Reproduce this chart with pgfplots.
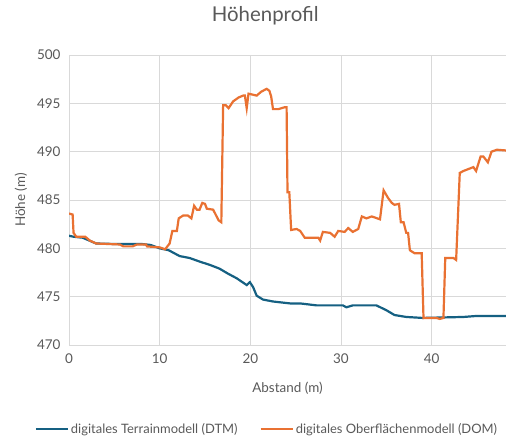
\documentclass[border=0pt]{standalone}
\usepackage{fontspec}
\setmainfont{Lato}
\usepackage{pgfplots}
\pgfplotsset{compat=1.18}
\definecolor{dtm}{HTML}{156082}
\definecolor{dom}{HTML}{E97132}
\definecolor{txt}{HTML}{595959}
\definecolor{grd}{HTML}{D9D9D9}
\begin{document}
\begin{tikzpicture}
\useasboundingbox (0,0) rectangle (506bp,436bp);
\begin{axis}[
  at={(69bp,91bp)}, anchor=south west,
  scale only axis, width=437bp, height=290bp,
  xmin=0, xmax=48.2, ymin=470, ymax=500,
  xtick={0,10,20,30,40}, ytick={470,475,...,500},
  grid=major, major grid style={grd, line width=0.9bp},
  axis line style={draw=none},
  major tick length=0pt,
  tick label style={font=\fontsize{13.5}{15}\selectfont, text=txt},
  /pgf/number format/assume math mode=true,
  xticklabel style={yshift=-5bp},
  yticklabel style={xshift=-5bp},
  xlabel={Abstand (m)}, ylabel={Höhe (m)},
  label style={font=\fontsize{13.5}{15}\selectfont, text=txt},
  xlabel style={at={(0.5,-0.148)}, anchor=center},
  ylabel style={at={(-0.11,0.5)}, anchor=center},
  title={Höhenprofil},
  title style={font=\fontsize{20.5}{23}\selectfont, text=txt, at={(0.449,1.114)}, anchor=center},
  legend columns=2,
  legend style={draw=none, fill=none, at={(0.453,-0.29)}, anchor=center,
    font=\fontsize{13}{15}\selectfont, text=txt,
    /tikz/every even column/.append style={column sep=20bp}},
  legend image code/.code={\draw[#1] (0bp,0bp) -- (32bp,0bp);},
  legend cell align=left,
]
\addplot[dtm, line width=2.2bp] coordinates {
(0,481.3) (0.5,481.2) (1.5,481.1) (2.5,480.7) (3.0,480.5) (5,480.45) (8,480.45) (9,480.35)
(10,480.0) (11,479.8) (12.2,479.2) (13.3,479.0) (14.5,478.6) (15.5,478.3) (16.6,477.9)
(17.5,477.4) (18.5,476.9) (19.6,476.2) (19.95,476.5) (20.3,476.0) (20.7,475.1) (21.4,474.7)
(22.5,474.5) (24.4,474.3) (25.5,474.3) (27.3,474.1) (30.2,474.1) (30.6,473.9) (31.3,474.1)
(33.9,474.1) (35.0,473.6) (35.9,473.1) (37.2,472.9) (39.0,472.8) (43.5,472.9) (44.9,473.0)
(48.5,473.0)
};
\addlegendentry{digitales Terrainmodell (DTM)}
\addplot[dom, line width=2.2bp] coordinates {
(0,483.6) (0.4,483.5) (0.5,481.6) (0.8,481.2) (1.8,481.2) (2.3,480.8) (3.0,480.5) (5.6,480.4)
(6.0,480.2) (7.0,480.2) (7.5,480.4) (8.5,480.4) (8.6,480.2) (10.0,480.1) (10.6,479.9)
(11.1,480.5) (11.4,481.8) (11.9,481.8) (12.1,483.1) (12.6,483.4) (13.1,483.4) (13.5,483.1)
(13.8,484.4) (14.1,484.0) (14.4,484.0) (14.7,484.7) (15.0,484.6) (15.2,484.1) (15.9,484.0)
(16.5,482.9) (16.8,482.7) (17.0,494.8) (17.3,494.8) (17.6,494.5) (18.1,495.2) (18.7,495.6)
(19.2,495.8) (19.4,495.8) (19.6,494.5) (19.8,496.0) (20.7,495.8) (21.2,496.2) (21.8,496.5)
(22.1,496.3) (22.3,495.7) (22.5,494.4) (23.1,494.4) (23.8,494.6) (24.0,494.6) (24.1,485.8)
(24.3,485.8) (24.5,481.9) (25.1,482.0) (25.5,481.8) (26.0,481.1) (27.5,481.1) (27.7,480.8)
(28.0,481.7) (28.8,481.6) (29.3,481.2) (29.7,481.8) (30.4,481.7) (30.8,482.1) (31.3,481.7)
(31.9,482.0) (32.3,483.3) (32.8,483.1) (33.4,483.3) (34.3,483.0) (34.7,486.0) (35.2,485.2)
(35.6,484.7) (35.9,484.5) (36.4,484.6) (36.6,482.7) (36.9,482.7) (37.2,481.6) (37.4,481.6)
(37.6,479.8) (38.1,479.5) (38.9,479.5) (39.1,472.8) (40.5,472.8) (40.9,472.7) (41.3,472.8)
(41.5,479.0) (42.4,479.0) (42.7,478.8) (43.1,487.8) (43.5,488.0) (44.6,488.4) (44.9,488.0)
(45.4,489.5) (45.7,489.5) (46.2,488.9) (46.6,490.0) (47.2,490.2) (48.5,490.1)
};
\addlegendentry{digitales Oberflächenmodell (DOM)}
\end{axis}
\end{tikzpicture}
\end{document}
